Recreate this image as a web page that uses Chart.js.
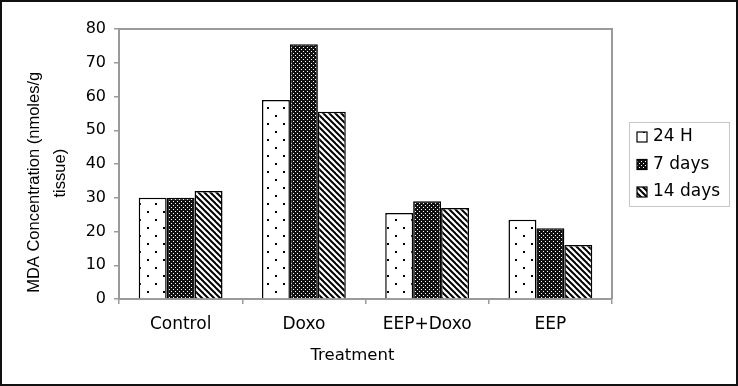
<!DOCTYPE html>
<html>
<head>
<meta charset="utf-8">
<script src="https://cdn.jsdelivr.net/npm/chart.js@4.4.0/dist/chart.umd.min.js"></script>
<style>
  html, body { margin: 0; padding: 0; background: #fff; }
  canvas { display: block; }
</style>
</head>
<body>
<canvas id="chart" width="738" height="386"></canvas>
<script>
// data
const treatments = ['Control', 'Doxo', 'EEP+Doxo', 'EEP'];
const seriesNames = ['24 H', '7 days', '14 days'];
const mda24h = [30, 59, 25.5, 23.5];
const mda7d = [30, 75.5, 29, 21];
const mda14d = [32, 55.5, 27, 16];
const yMin = 0, yMax = 80, yStep = 10;

// fill patterns like the old excel hatches
function makeTile(size, draw) {
    let c = document.createElement('canvas');
    c.width = size; c.height = size;
    let g = c.getContext('2d');
    draw(g, size);
    return g.createPattern(c, 'repeat');
}

const dotFill = makeTile(16, function (g, s) {
    g.fillStyle = '#fff'; g.fillRect(0, 0, s, s);
    g.fillStyle = '#000';
    g.fillRect(3, 3, 2, 2);
    g.fillRect(11, 11, 2, 2);
});
const checkFill = makeTile(4, function (g, s) {
    g.fillStyle = '#111'; g.fillRect(0, 0, s, s);
    g.fillStyle = '#fff';
    g.fillRect(1, 1, 1, 1);
    g.fillRect(3, 3, 1, 1);
});
const stripeFill = makeTile(6, function (g, s) {
    g.fillStyle = '#fff'; g.fillRect(0, 0, s, s);
    g.strokeStyle = '#000'; g.lineWidth = 2;
    [-s, 0, s].forEach(k => {
        g.beginPath();
        g.moveTo(k - 1, -1);
        g.lineTo(k + s + 1, s + 1);
        g.stroke();
    });
});

// plot border, legend box and outer frame
const extras = {
    id: 'extras',
    afterDraw(chart) {
        const ctx = chart.ctx;
        const area = chart.chartArea;
        ctx.save();
        ctx.strokeStyle = '#9a9a9a';
        ctx.lineWidth = 2;
        ctx.beginPath();
        ctx.moveTo(area.left, area.top);
        ctx.lineTo(area.right, area.top);
        ctx.lineTo(area.right, area.bottom);
        ctx.stroke();

        const lx = area.right + 17, lw = 100, lh = 84;
        const ly = (area.top + area.bottom) / 2 - lh / 2;
        ctx.strokeStyle = '#c8c8c8';
        ctx.lineWidth = 1;
        ctx.strokeRect(lx + 0.5, ly + 0.5, lw, lh);
        ctx.font = '17px "DejaVu Sans"';
        ctx.textBaseline = 'middle';
        ctx.textAlign = 'left';
        chart.data.datasets.forEach((ds, i) => {
            const cy = ly + 15 + i * 27.5;
            ctx.fillStyle = ds.backgroundColor;
            ctx.fillRect(lx + 8, cy - 5, 10, 10);
            ctx.strokeStyle = '#000';
            ctx.lineWidth = 1.2;
            ctx.strokeRect(lx + 8, cy - 5, 10, 10);
            ctx.fillStyle = '#000';
            ctx.fillText(ds.label, lx + 24, cy);
        });

        ctx.strokeStyle = '#111';
        ctx.lineWidth = 2;
        ctx.strokeRect(1, 1, chart.width - 2, chart.height - 2);
        ctx.restore();
    }
};

const fills = [dotFill, checkFill, stripeFill];
const values = [mda24h, mda7d, mda14d];

var ctx = document.getElementById('chart').getContext('2d');
var mychart = new Chart(ctx, {
    type: 'bar',
    data: {
        labels: treatments,
        datasets: seriesNames.map((name, i) => ({
            label: name,
            data: values[i],
            backgroundColor: fills[i],
            borderColor: '#000',
            borderWidth: 1.5,
            categoryPercentage: 0.68,
            barPercentage: 1.0
        }))
    },
    options: {
        responsive: false,
        animation: false,
        layout: { padding: { left: 0, top: 29, right: 126, bottom: 0 } },
        plugins: {
            legend: { display: false },
            tooltip: { enabled: false }
        },
        scales: {
            x: {
                afterFit: s => { s.height = 87; },
                grid: { drawOnChartArea: false, drawTicks: true, tickLength: 5, color: '#9a9a9a', lineWidth: 1.5 },
                border: { color: '#9a9a9a', width: 2 },
                ticks: { color: '#000', padding: 10, font: { family: 'DejaVu Sans', size: 17 } },
                title: {
                    display: true,
                    // trailing spaces nudge the centred title a bit left, as in the original
                    text: 'Treatment     ',
                    color: '#000',
                    font: { family: 'DejaVu Sans', size: 16.5 },
                    padding: { top: 0, bottom: 20 }
                }
            },
            y: {
                min: yMin,
                max: yMax,
                afterFit: s => { s.width = 119; },
                grid: { drawOnChartArea: false, drawTicks: true, tickLength: 5, color: '#9a9a9a', lineWidth: 1.5 },
                border: { color: '#9a9a9a', width: 2 },
                ticks: { stepSize: yStep, color: '#000', padding: 8, font: { family: 'DejaVu Sans', size: 16 } },
                title: {
                    display: true,
                    // padded so the lines sit a little lower, like the reference
                    text: ['MDA Concentration (nmoles/g        ', 'tissue)    '],
                    color: '#000',
                    font: { family: 'Liberation Sans', size: 16.5, lineHeight: 1.6 },
                    padding: { top: 21, bottom: 0 }
                }
            }
        }
    },
    plugins: [extras]
});
</script>
</body>
</html>
